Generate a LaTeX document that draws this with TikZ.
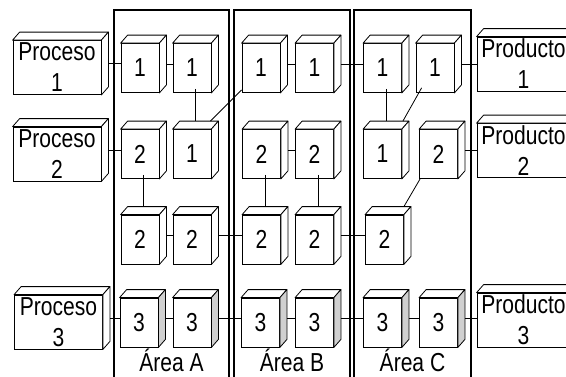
\documentclass[tikz,border=0pt]{standalone}
\usepackage{fontspec}
\setmainfont{Liberation Sans}[FakeStretch=0.81]
\usepackage{xcolor}
\definecolor{sidegray}{RGB}{208,208,208}

\begin{document}
\begin{tikzpicture}[
  x=1pt, y=-1pt,
  every node/.style={font=\fontsize{26}{31}\selectfont},
  cube/.style={draw, fill=white, line width=0.8pt, minimum width=38pt, minimum height=49pt, inner sep=0pt},
  block/.style={draw, fill=white, line width=0.8pt, minimum width=88pt, minimum height=54pt, inner sep=0pt, align=center},
  area/.style={draw, line width=1.1pt},
  face/.style={draw, line width=0.8pt, line join=round},
  link/.style={line width=0.8pt}
]
\useasboundingbox (0,0) rectangle (566,376);
\fill[white] (0,0) rectangle (566,376);

% areas
\draw[area] (114,10) rectangle (229,390);
\draw[area] (234,10) rectangle (350,390);
\draw[area] (354,10) rectangle (471,390);
\node[anchor=base] (labA) at (171.5,371.5) {Área A};
\node[anchor=base] (labB) at (292,371.5) {Área B};
\node[anchor=base] (labC) at (412.5,371.5) {Área C};

% processes and products
\node[block] (p1) at (57,67.5) {Proceso\\1};
\node[block] (p2) at (57,154) {Proceso\\2};
\node[block] (p3) at (58.5,322) {Proceso\\3};
\node[block, minimum width=93pt] (q1) at (523.5,64) {Producto\\1};
\node[block, minimum width=93pt] (q2) at (523.5,150.5) {Producto\\2};
\node[block, minimum width=93pt] (q3) at (523.5,320) {Producto\\3};

% row 1
\node[cube] (a11) at (140,68) {1};
\node[cube] (a12) at (192,68) {1};
\node[cube] (b11) at (261,68) {1};
\node[cube] (b12) at (314.5,68) {1};
\node[cube] (c11) at (382.5,68) {1};
\node[cube] (c12) at (435,68) {1};
% row 2
\node[cube] (a21) at (140,154) {2};
\node[cube] (a22) at (192,154) {1};
\node[cube] (b21) at (261.5,154) {2};
\node[cube] (b22) at (314.5,154) {2};
\node[cube] (c21) at (382.5,154) {1};
\node[cube] (c22) at (438.5,154) {2};
% row 3
\node[cube] (a31) at (140,239.5) {2};
\node[cube] (a32) at (192,239.5) {2};
\node[cube] (b31) at (261.5,239.5) {2};
\node[cube] (b32) at (314.5,239.5) {2};
\node[cube] (c31) at (384.5,239.5) {2};
% row 4
\node[cube] (a41) at (139,322.5) {3};
\node[cube] (a42) at (192,322.5) {3};
\node[cube] (b41) at (260.5,322.5) {3};
\node[cube] (b42) at (314.5,322.5) {3};
\node[cube] (c41) at (382.5,322.5) {3};
\node[cube] (c42) at (438.5,322.5) {3};

% top and side faces
\foreach \n/\c in {p1/white, p2/white, p3/white, q1/white, q2/white, q3/white,
    a11/white, a12/white, b11/white, b12/white, c11/white, c12/white,
    a21/white, a22/white, b21/white, b22/white, c21/white, c22/white,
    a31/white, a32/white, b31/white, b32/white, c31/white,
    a41/sidegray, a42/sidegray, b41/sidegray, b42/sidegray, c41/sidegray, c42/sidegray} {
  \draw[face, fill=white] (\n.north west) -- ++(7,-8) -- ([shift={(7,-8)}]\n.north east) -- (\n.north east) -- cycle;
  \draw[face, fill=\c] (\n.north east) -- ++(7,-8) -- ([shift={(7,-8)}]\n.south east) -- (\n.south east) -- cycle;
}

% horizontal links
\foreach \a/\b in {p1/a11, a11/a12, b11/b12, b12/c11, c12/q1,
    p2/a21, b21/b22, c22/q2,
    a31/a32, a32/b31, b32/c31,
    p3/a41, a41/a42, a42/b41, b41/b42, b42/c41, c41/c42, c42/q3}
  \draw[link] ([shift={(7,-4)}]\a.east) coordinate (s) -- (s -| \b.west);

% vertical links
\foreach \a/\b in {a12/a22, a21/a31, b21/b31, b22/b32, c11/c21}
  \draw[link] ([shift={(3.5,-4)}]\a.south) -- ([shift={(3.5,-8)}]\b.north);

% diagonal links
\draw[link] ([shift={(-1,-8)}]a22.north east) -- ([yshift=3pt]b11.south west);
\draw[link] ([shift={(6,-5)}]c12.south west) -- ([shift={(1,-8)}]c21.north east);
\draw[link] ([xshift=1pt]c22.south west) -- ([yshift=8pt]c31.north east);
\end{tikzpicture}
\end{document}
